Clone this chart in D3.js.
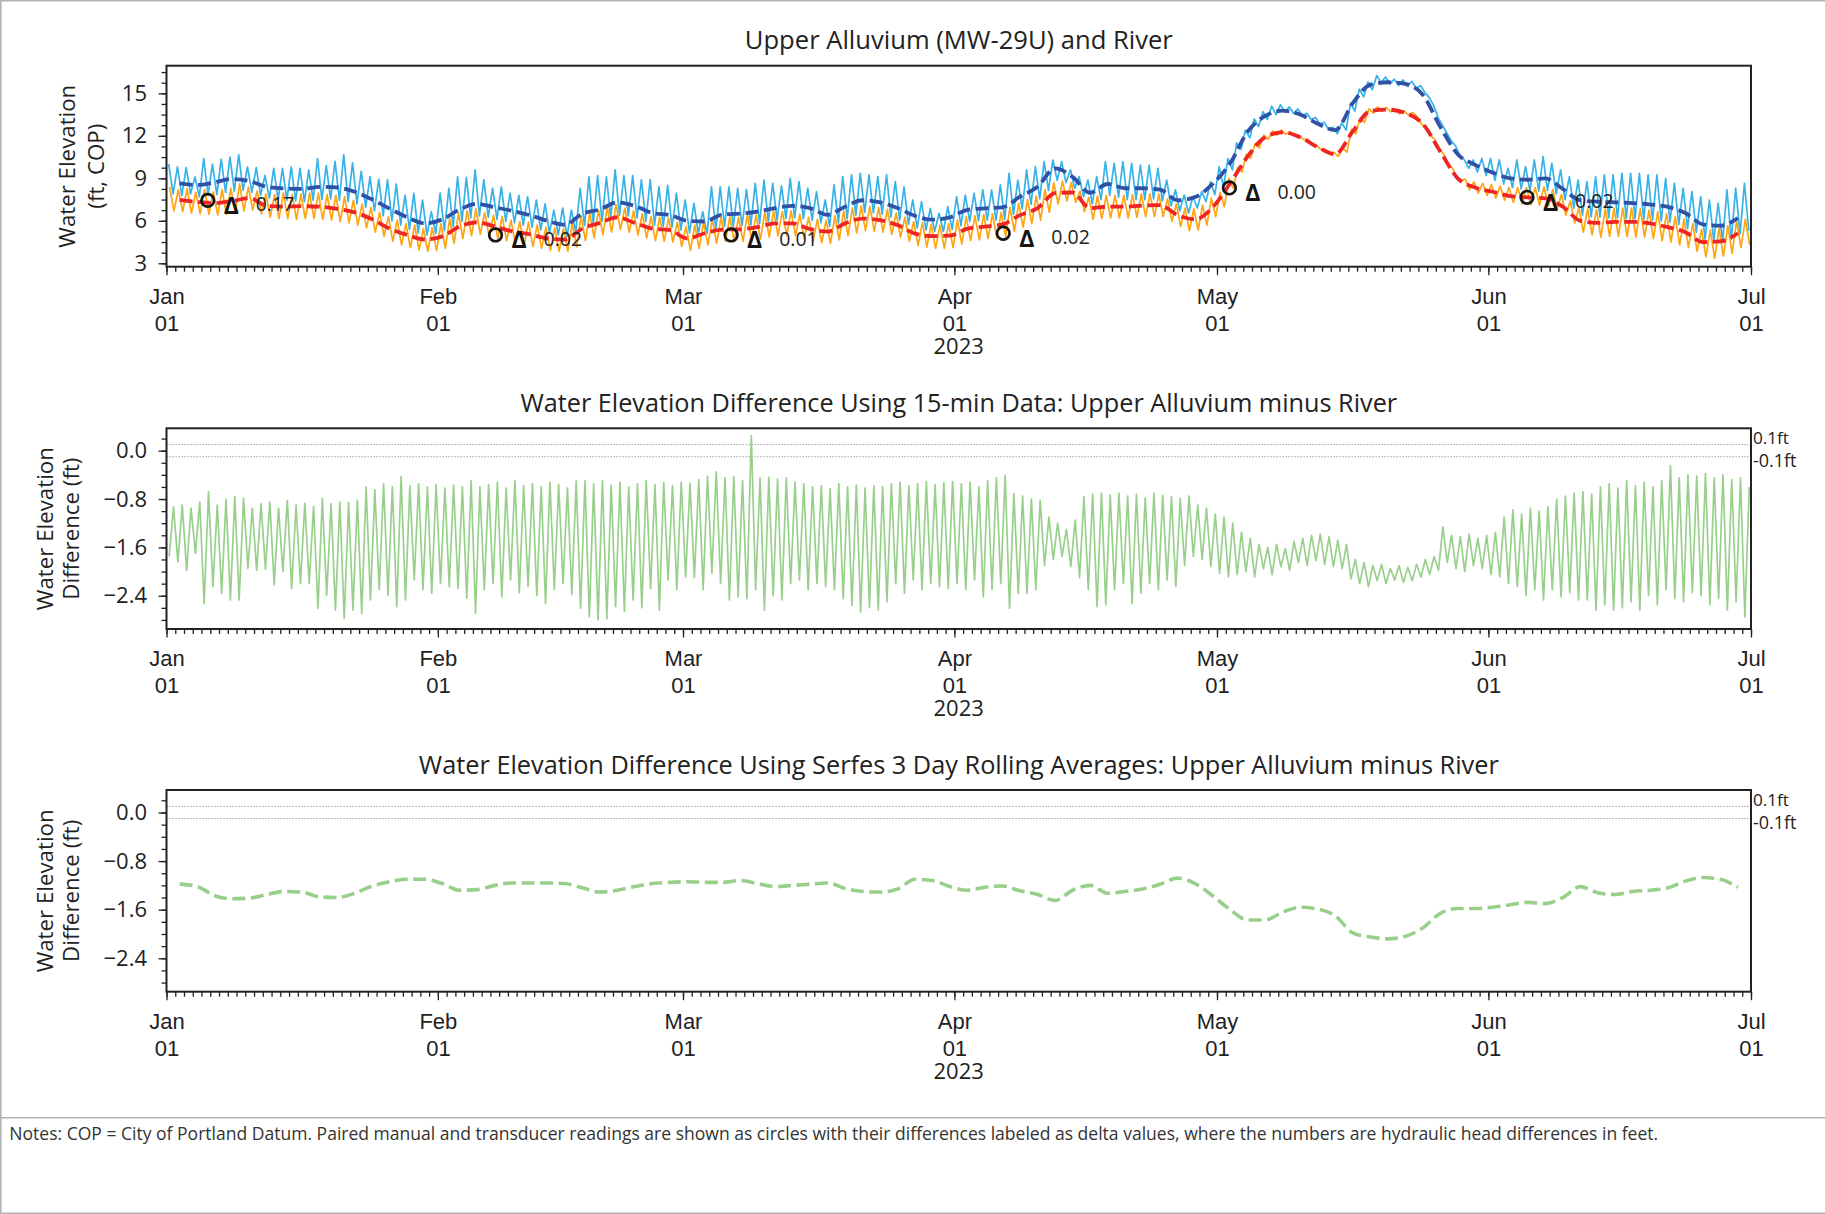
<!DOCTYPE html>
<html>
<head>
<meta charset="utf-8">
<script src="https://cdn.jsdelivr.net/npm/d3@7"></script>
<style>
  html, body { margin: 0; padding: 0; background: #ffffff; }
  svg { display: block; }
</style>
</head>
<body>
<svg id="chart" width="1825" height="1214"></svg>
<script>
// ---------------- DATA ----------------
// Daily high / low of the 15-minute river record (light blue), day 0 = 2023-01-01
const riverHi = [
  10.0, 9.8, 9.75, 9.1, 10.4, 10.0, 10.35, 10.5, 10.65, 9.8,
  9.75, 9.2, 9.7, 9.7, 9.8, 9.7, 9.6, 10.4, 9.9, 10.2,
  10.65, 10.1, 9.5, 9.1, 8.95, 8.9, 8.6, 7.8, 7.95, 7.47,
  6.65, 7.95, 8.3, 9.1, 9.07, 9.6, 8.9, 8.3, 8.4, 7.95,
  7.8, 7.7, 7.47, 7.2, 6.76, 6.9, 6.76, 8.3, 9.1, 9.2,
  9.1, 9.6, 9.2, 9.2, 8.9, 8.9, 8.4, 8.5, 7.95, 7.47,
  7.24, 6.65, 8.4, 8.4, 8.4, 8.3, 8.2, 8.65, 8.88, 8.65,
  8.46, 9.0, 8.76, 8.3, 8.06, 7.47, 8.53, 9.12, 9.24, 9.35,
  9.24, 9.12, 9.24, 8.76, 8.4, 7.47, 7.35, 6.88, 6.53, 7.0,
  7.7, 7.82, 7.94, 8.18, 8.18, 8.53, 9.35, 8.88, 9.6, 9.82,
  10.18, 10.29, 10.18, 9.6, 9.12, 8.88, 9.12, 10.18, 10.06, 10.18,
  10.06, 9.94, 9.94, 9.7, 8.88, 8.18, 7.82, 7.7, 8.06, 8.76,
  9.82, 10.4, 11.5, 12.4, 13.2, 13.7, 14.1, 14.2, 14.05, 13.9,
  13.6, 13.3, 12.95, 12.6, 12.9, 14.3, 15.3, 15.8, 16.25, 16.15,
  16.0, 15.95, 15.85, 15.55, 14.7, 13.3, 12.2, 11.3, 10.3, 10.3,
  10.4, 10.4, 10.3, 9.7, 10.3, 9.82, 10.3, 10.53, 10.06, 9.6,
  9.12, 8.88, 8.76, 9.12, 9.24, 9.24, 9.35, 9.35, 9.35, 9.24,
  9.24, 9.0, 8.65, 8.3, 8.06, 7.7, 7.47, 7.24, 8.18, 8.3, 8.65
];
const riverLo = [
  7.9, 7.8, 7.9, 7.7, 7.8, 7.85, 8.0, 8.1, 8.15, 8.0,
  7.8, 7.6, 7.5, 7.45, 7.4, 7.35, 7.45, 7.5, 7.55, 7.45,
  7.35, 7.2, 6.95, 6.7, 6.35, 6.0, 5.7, 5.4, 5.15, 5.0,
  5.1, 5.3, 5.6, 5.95, 6.2, 6.35, 6.25, 6.1, 5.95, 5.85,
  5.7, 5.55, 5.35, 5.15, 5.0, 4.9, 5.2, 5.65, 5.8, 5.95,
  6.2, 6.4, 6.35, 6.2, 5.95, 5.7, 5.6, 5.55, 5.35, 5.15,
  5.1, 5.1, 5.35, 5.6, 5.6, 5.65, 5.7, 5.8, 5.95, 6.05,
  6.15, 6.2, 6.15, 6.05, 5.85, 5.6, 5.85, 6.15, 6.4, 6.6,
  6.55, 6.45, 6.25, 6.05, 5.75, 5.5, 5.35, 5.25, 5.25, 5.4,
  5.65, 5.95, 6.0, 6.05, 6.05, 6.1, 6.45, 6.85, 7.15, 7.55,
  8.15, 8.85, 8.7, 8.3, 7.7, 7.2, 7.5, 7.8, 7.65, 7.5,
  7.5, 7.5, 7.55, 7.4, 7.05, 6.7, 6.55, 6.9, 7.35, 7.85,
  8.4, 9.6, 11.05, 11.85, 12.65, 13.15, 13.5, 13.65, 13.57, 13.4,
  13.15, 12.85, 12.45, 12.15, 12.4, 13.75, 14.75, 15.25, 15.75, 15.65,
  15.55, 15.5, 15.35, 15.05, 14.15, 12.75, 11.65, 10.6, 9.7, 9.45,
  9.2, 8.85, 8.6, 8.35, 8.25, 8.1, 8.1, 8.15, 7.9, 7.5,
  6.9, 6.4, 6.3, 6.25, 6.2, 6.2, 6.15, 6.15, 6.1, 6.05,
  6.0, 5.9, 5.75, 5.45, 5.2, 4.7, 4.6, 4.55, 4.7, 5.05, 5.3
];
// Daily high / low of the 15-minute Upper Alluvium record (orange)
const wellHi = [
  8.4, 8.2, 8.25, 8.0, 8.2, 8.05, 8.2, 8.3, 8.6, 8.4,
  8.1, 7.9, 7.85, 7.95, 7.85, 7.9, 7.95, 7.95, 7.85, 7.8,
  7.7, 7.45, 7.2, 6.95, 6.6, 6.3, 6.05, 5.8, 5.7, 5.45,
  5.5, 5.8, 6.15, 6.55, 6.7, 6.85, 6.6, 6.4, 6.3, 6.05,
  5.95, 5.9, 5.7, 5.55, 5.5, 5.45, 5.85, 6.35, 6.55, 6.75,
  6.95, 7.15, 6.9, 6.7, 6.5, 6.3, 6.25, 6.2, 5.9, 5.6,
  5.7, 5.9, 6.1, 6.25, 6.3, 6.25, 6.4, 6.4, 6.6, 6.7,
  6.65, 6.7, 6.45, 6.25, 6.1, 6.05, 6.35, 6.7, 6.9, 7.05,
  7.0, 6.95, 6.8, 6.55, 6.25, 5.95, 5.85, 5.75, 5.7, 5.8,
  6.05, 6.3, 6.35, 6.45, 6.5, 6.6, 6.95, 7.25, 7.5, 7.75,
  8.2, 8.7, 8.8, 8.7, 8.1, 7.65, 7.75, 7.8, 7.8, 7.8,
  7.85, 7.9, 7.9, 7.9, 7.55, 7.2, 6.9, 6.85, 7.1, 7.6,
  8.0, 9.0, 9.75, 10.7, 11.45, 12.05, 12.35, 12.4, 12.3, 12.05,
  11.75, 11.35, 11.05, 10.85, 11.15, 12.45, 13.25, 13.9, 14.05, 14.0,
  13.85, 13.77, 13.65, 12.85, 12.05, 11.05, 10.05, 9.15, 8.95, 8.75,
  8.65, 8.55, 8.45, 8.35, 8.35, 8.35, 8.35, 8.4, 8.2, 7.85,
  7.4, 6.9, 6.85, 6.8, 6.85, 6.9, 6.9, 6.9, 6.85, 6.75,
  6.65, 6.5, 6.3, 6.1, 5.8, 5.4, 5.35, 5.45, 5.65, 6.0, 6.1
];
const wellLo = [
  6.7, 6.65, 6.55, 6.5, 6.45, 6.4, 6.45, 6.5, 6.7, 6.75,
  6.5, 6.25, 6.15, 6.15, 6.1, 6.15, 6.15, 6.1, 6.05, 5.95,
  5.85, 5.7, 5.5, 5.2, 4.9, 4.55, 4.3, 4.1, 3.95, 3.85,
  3.9, 4.05, 4.4, 4.75, 4.95, 5.05, 4.9, 4.75, 4.6, 4.4,
  4.3, 4.2, 4.05, 3.9, 3.85, 3.85, 4.15, 4.6, 4.8, 5.0,
  5.2, 5.4, 5.2, 5.0, 4.8, 4.6, 4.55, 4.5, 4.2, 3.9,
  4.05, 4.3, 4.4, 4.55, 4.55, 4.55, 4.6, 4.7, 4.85, 4.95,
  4.95, 4.95, 4.75, 4.55, 4.45, 4.4, 4.65, 4.95, 5.15, 5.3,
  5.25, 5.2, 5.05, 4.85, 4.55, 4.25, 4.15, 4.05, 4.05, 4.1,
  4.35, 4.6, 4.65, 4.75, 4.8, 4.9, 5.25, 5.55, 5.8, 6.05,
  6.6, 7.2, 7.4, 7.3, 6.65, 6.1, 6.15, 6.2, 6.2, 6.2,
  6.25, 6.3, 6.3, 6.3, 5.95, 5.6, 5.3, 5.35, 5.7, 6.3,
  7.0, 8.3, 9.45, 10.4, 11.15, 11.75, 12.05, 12.1, 12.0, 11.75,
  11.45, 11.05, 10.75, 10.55, 10.85, 12.15, 12.95, 13.6, 13.75, 13.7,
  13.55, 13.47, 13.35, 12.55, 11.75, 10.75, 9.75, 8.8, 8.2, 7.95,
  7.8, 7.6, 7.45, 7.3, 7.2, 7.15, 7.1, 7.05, 6.85, 6.4,
  5.85, 5.2, 5.0, 4.85, 4.9, 4.9, 4.9, 4.85, 4.85, 4.75,
  4.6, 4.5, 4.3, 4.1, 3.85, 3.45, 3.35, 3.5, 3.7, 4.1, 4.3
];
// Rolling averages, one value every 2 days starting 2023-01-02 12:00
const riverAvg = [
  8.65, 8.53, 8.72, 8.95, 8.8, 8.4, 8.28, 8.25, 8.4, 8.35,
  8.05, 7.5, 6.85, 6.25, 5.82, 6.1, 6.8, 7.2, 6.95, 6.7,
  6.4, 6.0, 5.72, 6.5, 6.8, 7.3, 7.05, 6.55, 6.4, 6.0,
  5.95, 6.45, 6.5, 6.65, 6.9, 7.05, 6.9, 6.42, 7.0, 7.45,
  7.3, 6.9, 6.35, 6.08, 6.25, 6.78, 6.88, 6.95, 7.7, 8.4,
  9.7, 9.1, 7.98, 8.6, 8.3, 8.3, 8.2, 7.45, 7.68, 8.6,
  10.06, 12.29, 13.4, 13.78, 13.5, 12.85, 12.4, 14.3, 15.6, 15.78,
  15.66, 14.9, 12.65, 10.7, 9.95, 9.4, 9.0, 8.9, 9.0, 8.25,
  7.45, 7.35, 7.3, 7.25, 7.15, 6.98, 6.55, 5.75, 5.65, 6.2
];
const wellAvg = [
  7.47, 7.33, 7.25, 7.4, 7.6, 7.05, 7.0, 7.03, 7.0, 6.85,
  6.6, 6.1, 5.45, 5.0, 4.68, 4.9, 5.6, 5.9, 5.6, 5.25,
  5.05, 4.75, 4.68, 5.45, 5.85, 6.25, 5.85, 5.45, 5.35, 4.75,
  5.12, 5.38, 5.4, 5.55, 5.82, 5.82, 5.42, 5.24, 5.82, 6.16,
  6.05, 5.7, 5.1, 4.92, 4.95, 5.45, 5.59, 5.75, 6.4, 6.9,
  7.95, 8.0, 6.9, 7.0, 7.0, 7.08, 7.1, 6.4, 6.1, 6.95,
  8.65, 10.55, 11.9, 12.25, 11.9, 11.2, 10.7, 12.3, 13.75, 13.85,
  13.62, 12.85, 10.9, 9.0, 8.35, 8.05, 7.75, 7.65, 7.59, 7.0,
  6.0, 5.85, 5.93, 5.93, 5.82, 5.55, 5.2, 4.5, 4.55, 5.12
];
// Daily high / low of the 15-minute difference (Upper Alluvium minus River)
const diffHi = [
  -0.93, -0.9, -0.95, -0.85, -0.68, -0.9, -0.8, -0.76, -0.79, -0.95,
  -0.88, -0.85, -0.95, -0.82, -0.9, -0.87, -0.92, -0.79, -0.88, -0.85,
  -0.86, -0.82, -0.6, -0.65, -0.55, -0.6, -0.43, -0.58, -0.55, -0.6,
  -0.56, -0.62, -0.57, -0.6, -0.5, -0.6, -0.56, -0.52, -0.62, -0.5,
  -0.58, -0.55, -0.6, -0.52, -0.56, -0.62, -0.5, -0.5, -0.55, -0.5,
  -0.57, -0.52, -0.6, -0.55, -0.5, -0.56, -0.53, -0.58, -0.52, -0.54,
  -0.48, -0.42, -0.35, -0.45, -0.43, -0.49, 0.25, -0.45, -0.44, -0.47,
  -0.45, -0.52, -0.55, -0.6, -0.58, -0.63, -0.55, -0.6, -0.57, -0.62,
  -0.58, -0.6, -0.55, -0.52, -0.58, -0.55, -0.51, -0.56, -0.53, -0.51,
  -0.55, -0.52, -0.6, -0.5, -0.45, -0.41, -0.71, -0.75, -0.8, -0.82,
  -1.1, -1.2, -1.3, -1.15, -0.76, -0.72, -0.7, -0.73, -0.7, -0.75,
  -0.72, -0.78, -0.7, -0.74, -0.76, -0.79, -0.75, -0.9, -0.95, -1.05,
  -1.1, -1.2, -1.35, -1.45, -1.55, -1.6, -1.55, -1.62, -1.5, -1.45,
  -1.4, -1.38, -1.42, -1.48, -1.55, -1.8, -1.85, -1.9, -1.88, -1.95,
  -1.9, -1.93, -1.88, -1.8, -1.75, -1.26, -1.4, -1.42, -1.38, -1.45,
  -1.4, -1.35, -1.1, -0.98, -1.05, -0.95, -1.0, -0.93, -0.8, -0.75,
  -0.7, -0.68, -0.72, -0.6, -0.55, -0.62, -0.5, -0.58, -0.52, -0.6,
  -0.5, -0.25, -0.45, -0.4, -0.42, -0.38, -0.45, -0.4, -0.48, -0.45, -0.6
];
const diffLo = [
  -1.75, -1.84, -1.98, -1.7, -2.53, -2.25, -2.36, -2.47, -2.47, -1.95,
  -1.98, -1.96, -2.22, -2.0, -2.28, -2.2, -2.2, -2.61, -2.39, -2.64,
  -2.78, -2.64, -2.69, -2.47, -2.3, -2.39, -2.58, -2.47, -2.14, -2.3,
  -2.36, -2.2, -2.25, -2.28, -2.44, -2.69, -2.3, -2.2, -2.42, -2.14,
  -2.35, -2.25, -2.4, -2.53, -2.3, -2.2, -2.38, -2.61, -2.75, -2.8,
  -2.78, -2.58, -2.66, -2.47, -2.6, -2.28, -2.64, -2.14, -2.3, -2.09,
  -2.1, -2.3, -2.03, -2.2, -2.47, -2.42, -2.45, -2.3, -2.64, -2.4,
  -2.47, -2.2, -2.14, -2.3, -2.2, -2.25, -2.3, -2.45, -2.56, -2.67,
  -2.6, -2.64, -2.5, -2.2, -2.36, -2.14, -2.3, -2.2, -2.25, -2.28,
  -2.2, -2.3, -2.14, -2.42, -2.3, -2.2, -2.61, -2.36, -2.36, -2.3,
  -1.9, -1.8, -1.75, -1.92, -2.1, -2.3, -2.58, -2.55, -2.3, -2.2,
  -2.53, -2.36, -2.2, -2.3, -2.14, -2.25, -1.9, -1.75, -1.8, -1.92,
  -2.03, -2.09, -2.05, -2.0, -2.09, -1.95, -2.05, -1.92, -1.98, -1.85,
  -1.9, -1.82, -1.88, -1.92, -1.95, -2.12, -2.2, -2.25, -2.15, -2.2,
  -2.14, -2.18, -2.15, -2.09, -2.05, -1.98, -1.85, -1.95, -2.0, -1.9,
  -1.95, -2.05, -2.09, -2.2, -2.25, -2.4, -2.3, -2.47, -2.3, -2.42,
  -2.35, -2.47, -2.47, -2.64, -2.55, -2.64, -2.6, -2.5, -2.64, -2.4,
  -2.55, -2.3, -2.45, -2.5, -2.35, -2.4, -2.55, -2.45, -2.64, -2.5, -2.75
];
// 3-day rolling average difference, one value every 2 days starting 2023-01-02 12:00
const diffAvg = [
  -1.18, -1.22, -1.37, -1.42, -1.41, -1.35, -1.3, -1.31, -1.39, -1.4,
  -1.33, -1.21, -1.14, -1.10, -1.10, -1.17, -1.28, -1.27, -1.2, -1.16,
  -1.16, -1.16, -1.17, -1.24, -1.31, -1.28, -1.22, -1.17, -1.15, -1.14,
  -1.15, -1.15, -1.12, -1.17, -1.22, -1.2, -1.18, -1.16, -1.25, -1.3,
  -1.31, -1.26, -1.1, -1.12, -1.22, -1.28, -1.23, -1.21, -1.29, -1.35,
  -1.45, -1.28, -1.2, -1.33, -1.3, -1.26, -1.18, -1.08, -1.17, -1.37,
  -1.6, -1.77, -1.77, -1.64, -1.56, -1.59, -1.7, -1.98, -2.05, -2.08,
  -2.04, -1.9, -1.66, -1.58, -1.58, -1.56, -1.52, -1.48, -1.5, -1.4,
  -1.22, -1.32, -1.35, -1.3, -1.28, -1.24, -1.13, -1.07, -1.10, -1.23
];
// Paired manual / transducer readings
const readingTimes = ["2023-01-05T17:00Z", "2023-02-07T14:00Z", "2023-03-06T12:00Z",
                      "2023-04-06T14:00Z", "2023-05-02T10:00Z", "2023-06-05T10:00Z"];
const readingValues = [7.44, 5.0, 5.0, 5.12, 8.32, 7.66];
const readingDeltas = ["0.17", "0.02", "0.01", "0.02", "0.00", "0.02"];

// Axis ticks and texts
const topTicks = [3, 6, 9, 12, 15];
const diffTicks = [-2.4, -1.6, -0.8, 0.0];
const bandLevels = [0.1, -0.1];
const bandLabels = ["0.1ft", "-0.1ft"];
const yearLabel = "2023";
const titles = [
  "Upper Alluvium (MW-29U) and River",
  "Water Elevation Difference Using 15-min Data: Upper Alluvium minus River",
  "Water Elevation Difference Using Serfes 3 Day Rolling Averages: Upper Alluvium minus River"
];
const yLabels = [["Water Elevation", "(ft, COP)"], ["Water Elevation", "Difference (ft)"], ["Water Elevation", "Difference (ft)"]];
const noteText = "Notes: COP = City of Portland Datum. Paired manual and transducer readings are shown as circles with their differences labeled as delta values, where the numbers are hydraulic head differences in feet.";

// ---------------- DRAWING ----------------
const FONT = "'Open Sans', 'Noto Sans', 'DejaVu Sans', sans-serif";
const INK = "#222222";
const svg = d3.select("#chart").attr("font-family", FONT);
svg.append("rect").attr("width", 1825).attr("height", 1214).attr("fill", "#fff");

const t0 = Date.UTC(2023, 0, 1), t1 = Date.UTC(2023, 6, 1);
const DAY = 864e5;
const atDay = d => new Date(t0 + d * DAY);
const x = d3.scaleUtc().domain([new Date(t0), new Date(t1)]).range([166.5, 1751]);

const panels = [
  { top: 65.7, bottom: 266.7, domain: [2.76, 16.95] },
  { top: 428.3, bottom: 629.0, domain: [-2.95, 0.37] },
  { top: 790.0, bottom: 991.7, domain: [-2.95, 0.37] }
];
panels.forEach(p => { p.y = d3.scaleLinear().domain(p.domain).range([p.bottom, p.top]); });

function fit(sel, target) {
  const w = sel.node().getComputedTextLength();
  const fs = parseFloat(sel.attr("font-size"));
  if (w > 0) sel.attr("font-size", (fs * target / w).toFixed(2));
}

// outer border and separator
const border = svg.append("g").attr("stroke", "#b4b4b4").attr("fill", "none");
border.append("line").attr("x1", 0).attr("x2", 1825).attr("y1", 0.8).attr("y2", 0.8).attr("stroke-width", 1.6);
border.append("line").attr("x1", 0.8).attr("x2", 0.8).attr("y1", 0).attr("y2", 1214).attr("stroke-width", 1.6);
border.append("line").attr("x1", 0).attr("x2", 1825).attr("y1", 1213.2).attr("y2", 1213.2).attr("stroke-width", 1.6);
border.append("line").attr("x1", 0).attr("x2", 1825).attr("y1", 1117.7).attr("y2", 1117.7).attr("stroke-width", 1.6);

// titles
const titleWidths = [428, 877, 1080];
const titleBase = [49.3, 412.3, 774.2];
titles.forEach((t, i) => {
  const s = svg.append("text").attr("x", 958.8).attr("y", titleBase[i]).attr("text-anchor", "middle")
    .attr("font-size", 22).attr("fill", INK).text(t);
  fit(s, titleWidths[i]);
});

// y labels
const yLabelX = [[67, 96], [44.6, 71.4], [44.6, 71.4]];
yLabels.forEach((lines, i) => {
  const p = panels[i];
  const cy = (p.top + p.bottom) / 2;
  let fs = 20;
  lines.forEach((ln, j) => {
    const s = svg.append("text")
      .attr("transform", `translate(${yLabelX[i][j]},${cy}) rotate(-90)`)
      .attr("text-anchor", "middle").attr("dy", "0.36em")
      .attr("font-size", fs).attr("fill", INK).text(ln);
    if (j === 0) { fit(s, 163); fs = parseFloat(s.attr("font-size")); }
  });
});

function styleAxis(g) {
  g.select(".domain").remove();
  g.selectAll(".tick line").attr("stroke", INK).attr("stroke-width", 1.3);
  g.selectAll(".tick text").attr("fill", INK).attr("font-family", FONT).attr("font-size", 22);
}

const minorDays = d3.utcDay.range(new Date(t0), new Date(t1 + 1));
const majorMonths = d3.utcMonth.range(new Date(t0), new Date(t1 + 1));

panels.forEach((p, i) => {
  const g = svg.append("g");
  // x minor + major ticks
  g.append("g").attr("transform", `translate(0,${p.bottom})`)
    .call(d3.axisBottom(x).tickValues(minorDays).tickSize(5).tickFormat(""))
    .call(styleAxis);
  const xa = g.append("g").attr("transform", `translate(0,${p.bottom})`)
    .call(d3.axisBottom(x).tickValues(majorMonths).tickSize(8.5).tickFormat(""))
    .call(styleAxis);
  xa.selectAll(".tick").each(function (d) {
    const tk = d3.select(this);
    tk.append("text").attr("y", 29.5).attr("dy", "0.36em").attr("text-anchor", "middle")
      .attr("font-size", 22).attr("fill", INK).text(d3.utcFormat("%b")(d));
    tk.append("text").attr("y", 56.3).attr("dy", "0.36em").attr("text-anchor", "middle")
      .attr("font-size", 22).attr("fill", INK).text(d3.utcFormat("%d")(d));
  });
  g.append("text").attr("x", 958.7).attr("y", p.bottom + 79.5).attr("dy", "0.36em")
    .attr("text-anchor", "middle").attr("font-size", 22).attr("fill", INK).text(yearLabel);

  // y ticks
  const major = i === 0 ? topTicks : diffTicks;
  const step = i === 0 ? 0.75 : 0.2;
  const minor = d3.range(Math.ceil(p.domain[0] / step - 1e-9), Math.floor(p.domain[1] / step + 1e-9) + 1)
    .map(k => +(k * step).toFixed(3));
  g.append("g").attr("transform", `translate(${x.range()[0]},0)`)
    .call(d3.axisLeft(p.y).tickValues(minor).tickSize(5).tickFormat(""))
    .call(styleAxis);
  g.append("g").attr("transform", `translate(${x.range()[0]},0)`)
    .call(d3.axisLeft(p.y).tickValues(major).tickSize(8).tickPadding(11.5)
      .tickFormat(i === 0 ? d3.format("d") : d3.format(".1f")))
    .call(styleAxis);
});

// -------- top panel series --------
const P0 = panels[0];
const line0 = d3.line().x(d => x(d.t)).y(d => P0.y(d.v));
const riverPts = [], wellPts = [];
riverHi.forEach((v, d) => {
  riverPts.push({ t: atDay(d + 0.25), v: v });
  riverPts.push({ t: atDay(d + 0.75), v: riverLo[d] });
});
wellHi.forEach((v, d) => {
  wellPts.push({ t: atDay(d + 0.35), v: v });
  wellPts.push({ t: atDay(d + 0.85), v: wellLo[d] });
});
const avgTime = i => atDay(1.5 + 2 * i);
const smooth = d3.line().curve(d3.curveMonotoneX);

svg.append("path").attr("d", line0(riverPts)).attr("fill", "none")
  .attr("stroke", "#37b2e8").attr("stroke-width", 1.7).attr("stroke-linejoin", "round");
svg.append("path").attr("d", line0(wellPts)).attr("fill", "none")
  .attr("stroke", "#ffa412").attr("stroke-width", 1.7).attr("stroke-linejoin", "round");
svg.append("path")
  .attr("d", smooth.x((d, i) => x(avgTime(i))).y(d => P0.y(d))(riverAvg))
  .attr("fill", "none").attr("stroke", "#2f51a6").attr("stroke-width", 3.8)
  .attr("stroke-dasharray", "13,5.5");
svg.append("path")
  .attr("d", smooth.x((d, i) => x(avgTime(i))).y(d => P0.y(d))(wellAvg))
  .attr("fill", "none").attr("stroke", "#ef2424").attr("stroke-width", 3.8)
  .attr("stroke-dasharray", "13,5.5");

// readings
readingTimes.forEach((t, i) => {
  const cx = x(new Date(t)), cy = P0.y(readingValues[i]);
  svg.append("circle").attr("cx", cx).attr("cy", cy).attr("r", 6.3)
    .attr("fill", "none").attr("stroke", "#151515").attr("stroke-width", 2.7);
  svg.append("text").attr("x", cx + 23.5).attr("y", cy + 5).attr("dy", "0.36em")
    .attr("text-anchor", "middle").attr("font-size", 23).attr("font-weight", 700)
    .attr("fill", "#151515").text("\u0394");
  svg.append("text").attr("x", cx + 48).attr("y", cy + 4).attr("dy", "0.36em")
    .attr("font-size", 19.5).attr("fill", "#222").text(readingDeltas[i]);
});

// -------- difference panels --------
[1, 2].forEach(k => {
  const p = panels[k];
  bandLevels.forEach((lv, j) => {
    svg.append("line").attr("x1", x.range()[0]).attr("x2", x.range()[1])
      .attr("y1", p.y(lv)).attr("y2", p.y(lv))
      .attr("stroke", "#8c8c8c").attr("stroke-width", 1).attr("stroke-dasharray", "1.2,1.8");
    const s = svg.append("text").attr("x", 1753)
      .attr("y", j === 0 ? p.y(lv) - 0.5 : p.y(lv) + 10.5)
      .attr("font-size", 16).attr("fill", INK).text(bandLabels[j]);
    fit(s, j === 0 ? 36 : 43.5);
  });
});

const P1 = panels[1];
const diffPts = [];
diffHi.forEach((v, d) => {
  diffPts.push({ t: atDay(d + 0.3), v: diffLo[d] });
  diffPts.push({ t: atDay(d + 0.8), v: v });
});
svg.append("path")
  .attr("d", d3.line().x(d => x(d.t)).y(d => P1.y(d.v))(diffPts))
  .attr("fill", "none").attr("stroke", "#98d08b").attr("stroke-width", 1.7).attr("stroke-linejoin", "round");

const P2 = panels[2];
svg.append("path")
  .attr("d", d3.line().curve(d3.curveMonotoneX).x((d, i) => x(avgTime(i))).y(d => P2.y(d))(diffAvg))
  .attr("fill", "none").attr("stroke", "#98d08b").attr("stroke-width", 3.6)
  .attr("stroke-dasharray", "13,5.5");

// frames on top
panels.forEach(p => {
  svg.append("rect").attr("x", x.range()[0]).attr("y", p.top)
    .attr("width", x.range()[1] - x.range()[0]).attr("height", p.bottom - p.top)
    .attr("fill", "none").attr("stroke", INK).attr("stroke-width", 2);
});

// notes
const note = svg.append("text").attr("x", 9.3).attr("y", 1140).attr("font-size", 17)
  .attr("fill", "#333").text(noteText);
fit(note, 1650);
</script>
</body>
</html>
